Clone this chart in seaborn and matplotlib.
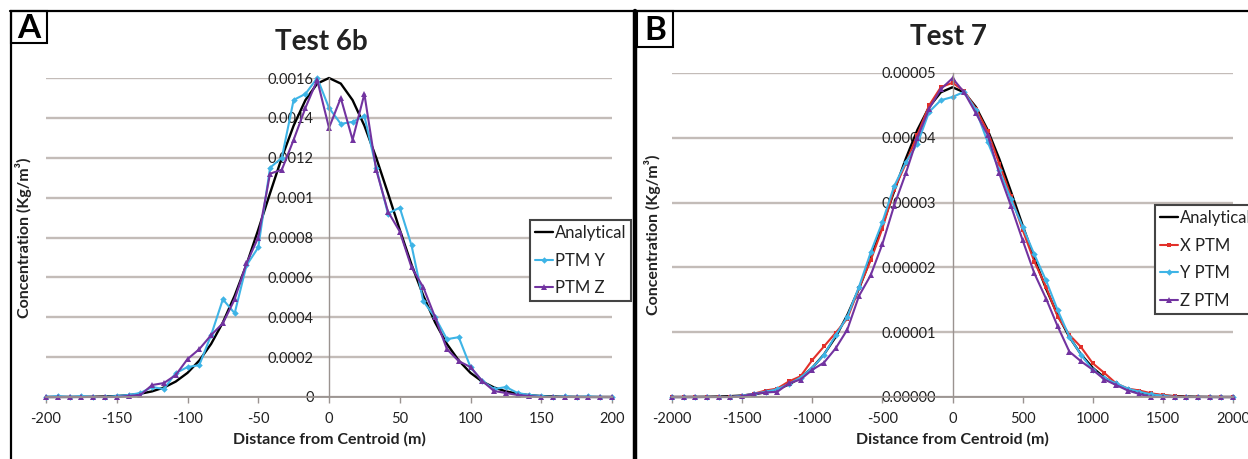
import matplotlib
matplotlib.use("Agg")
import matplotlib.pyplot as plt
import seaborn as sns
from matplotlib.lines import Line2D
from matplotlib.patches import Rectangle

# ---------------- data: panel A (Test 6b) ----------------
dist_a = [-200, -191.67, -183.33, -175, -166.67, -158.33, -150, -141.67, -133.33, -125,
          -116.67, -108.33, -100, -91.67, -83.33, -75, -66.67, -58.33, -50, -41.67,
          -33.33, -25, -16.67, -8.33, 0, 8.33, 16.67, 25, 33.33, 41.67,
          50, 58.33, 66.67, 75, 83.33, 91.67, 100, 108.33, 116.67, 125,
          133.33, 141.67, 150, 158.33, 166.67, 175, 183.33, 191.67, 200]
analytical_a = [0.0, 0.0000001, 0.0000003, 0.0000006, 0.0000012, 0.0000025, 0.0000048, 0.000009, 0.0000162, 0.0000283,
                0.0000476, 0.0000773, 0.000121, 0.000183, 0.000266, 0.000374, 0.000508, 0.000664, 0.000839, 0.001022,
                0.001201, 0.001361, 0.001489, 0.001572, 0.0016, 0.001572, 0.001489, 0.001361, 0.001201, 0.001022,
                0.000839, 0.000664, 0.000508, 0.000374, 0.000266, 0.000183, 0.000121, 0.0000773, 0.0000476, 0.0000283,
                0.0000162, 0.000009, 0.0000048, 0.0000025, 0.0000012, 0.0000006, 0.0000003, 0.0000001, 0.0]
ptm_y_a = [0.0, 0.000005, 0.0, 0.000005, 0.0, 0.0, 0.000005, 0.00001, 0.00002, 0.00005,
           0.00004, 0.00012, 0.00015, 0.00016, 0.00031, 0.00049, 0.00042, 0.00066, 0.00075, 0.00115,
           0.00120, 0.00149, 0.00152, 0.00160, 0.00145, 0.00137, 0.00138, 0.00141, 0.00115, 0.00092,
           0.00095, 0.00076, 0.00048, 0.00040, 0.00029, 0.00030, 0.00015, 0.00008, 0.00004, 0.00005,
           0.00002, 0.00001, 0.000005, 0.0, 0.000003, 0.0, 0.000003, 0.0, 0.0]
ptm_z_a = [0.0, 0.0, 0.0, 0.0, 0.0, 0.0, 0.0, 0.000005, 0.00001, 0.00006,
           0.00007, 0.00011, 0.00019, 0.00024, 0.00031, 0.00037, 0.00049, 0.00067, 0.00080, 0.00112,
           0.00114, 0.00129, 0.00145, 0.00159, 0.00135, 0.00150, 0.00129, 0.00152, 0.00114, 0.00093,
           0.00083, 0.00065, 0.00055, 0.00040, 0.00024, 0.00018, 0.00015, 0.00008, 0.00003, 0.00002,
           0.00001, 0.000005, 0.0, 0.0, 0.0, 0.0, 0.0, 0.0, 0.0]
xticks_a = [-200, -150, -100, -50, 0, 50, 100, 150, 200]
xlabels_a = ["-200", "-150", "-100", "-50", "0", "50", "100", "150", "200"]
yticks_a = [0, 0.0002, 0.0004, 0.0006, 0.0008, 0.001, 0.0012, 0.0014, 0.0016]
ylabels_a = ["0", "0.0002", "0.0004", "0.0006", "0.0008", "0.001", "0.0012", "0.0014", "0.0016"]

# ---------------- data: panel B (Test 7) ----------------
dist_b = [-2000, -1916.7, -1833.3, -1750, -1666.7, -1583.3, -1500, -1416.7, -1333.3, -1250,
          -1166.7, -1083.3, -1000, -916.7, -833.3, -750, -666.7, -583.3, -500, -416.7,
          -333.3, -250, -166.7, -83.3, 0, 83.3, 166.7, 250, 333.3, 416.7,
          500, 583.3, 666.7, 750, 833.3, 916.7, 1000, 1083.3, 1166.7, 1250,
          1333.3, 1416.7, 1500, 1583.3, 1666.7, 1750, 1833.3, 1916.7, 2000]
analytical_b = [0.0, 0.0, 1e-8, 3e-8, 7e-8, 1.3e-7, 2.3e-7, 4.2e-7, 7.2e-7, 1.19e-6,
                1.92e-6, 2.99e-6, 4.50e-6, 6.56e-6, 9.26e-6, 1.265e-5, 1.673e-5, 2.139e-5, 2.648e-5, 3.171e-5,
                3.676e-5, 4.124e-5, 4.476e-5, 4.702e-5, 4.78e-5, 4.702e-5, 4.476e-5, 4.124e-5, 3.676e-5, 3.171e-5,
                2.648e-5, 2.139e-5, 1.673e-5, 1.265e-5, 9.26e-6, 6.56e-6, 4.50e-6, 2.99e-6, 1.92e-6, 1.19e-6,
                7.2e-7, 4.2e-7, 2.3e-7, 1.3e-7, 7e-8, 3e-8, 1e-8, 0.0, 0.0]
x_ptm_b = [0.0, 0.0, 0.0, 0.0, 0.0, 0.0, 2e-7, 5e-7, 1.0e-6, 1.3e-6,
           2.4e-6, 3.2e-6, 5.7e-6, 7.8e-6, 9.9e-6, 1.21e-5, 1.68e-5, 2.11e-5, 2.6e-5, 3.2e-5,
           3.6e-5, 4.05e-5, 4.5e-5, 4.78e-5, 4.85e-5, 4.72e-5, 4.45e-5, 4.1e-5, 3.6e-5, 3.1e-5,
           2.58e-5, 2.09e-5, 1.7e-5, 1.24e-5, 9.6e-6, 7.7e-6, 5.2e-6, 3.7e-6, 2.1e-6, 1.3e-6,
           1.0e-6, 5.7e-7, 3e-7, 1e-7, 0.0, 0.0, 0.0, 0.0, 0.0]
y_ptm_b = [0.0, 0.0, 0.0, 0.0, 0.0, 0.0, 2e-7, 5e-7, 8e-7, 1.2e-6,
           2.0e-6, 3.0e-6, 4.5e-6, 6.5e-6, 9.5e-6, 1.24e-5, 1.7e-5, 2.23e-5, 2.7e-5, 3.25e-5,
           3.62e-5, 3.91e-5, 4.4e-5, 4.58e-5, 4.63e-5, 4.71e-5, 4.43e-5, 3.94e-5, 3.5e-5, 3.05e-5,
           2.63e-5, 2.2e-5, 1.8e-5, 1.34e-5, 9.3e-6, 6.5e-6, 4.2e-6, 2.9e-6, 2.1e-6, 1.3e-6,
           8e-7, 4e-7, 2e-7, 0.0, 0.0, 0.0, 0.0, 0.0, 0.0]
z_ptm_b = [0.0, 0.0, 0.0, 0.0, 0.0, 0.0, 1e-7, 5e-7, 7e-7, 8e-7,
           2.1e-6, 2.7e-6, 4.2e-6, 5.3e-6, 7.5e-6, 1.04e-5, 1.56e-5, 1.88e-5, 2.36e-5, 2.95e-5,
           3.45e-5, 4.0e-5, 4.45e-5, 4.75e-5, 4.92e-5, 4.7e-5, 4.38e-5, 4.05e-5, 3.45e-5, 2.95e-5,
           2.42e-5, 1.91e-5, 1.52e-5, 1.09e-5, 7.0e-6, 5.5e-6, 4.2e-6, 2.7e-6, 1.85e-6, 1.0e-6,
           4.6e-7, 0.0, 0.0, 0.0, 0.0, 0.0, 0.0, 0.0, 0.0]
xticks_b = [-2000, -1500, -1000, -500, 0, 500, 1000, 1500, 2000]
xlabels_b = ["-2000", "-1500", "-1000", "-500", "0", "500", "1000", "1500", "2000"]
yticks_b = [0, 0.00001, 0.00002, 0.00003, 0.00004, 0.00005]
ylabels_b = ["0.00000", "0.00001", "0.00002", "0.00003", "0.00004", "0.00005"]

# ---------------- style ----------------
sns.set_theme(style="white")
plt.rcParams['font.family'] = ['Lato', 'DejaVu Sans']
plt.rcParams['axes.unicode_minus'] = False

BLACK = "#000000"
BLUE = "#3eb4e6"
PURPLE = "#7233a0"
RED = "#e2302a"
GRID = "#c3bcb8"
AXIS = "#9a9390"
TXT = "#222222"

W, H = 1248, 459
fig = plt.figure(figsize=(W / 100, H / 100), dpi=100)
fig.patch.set_facecolor("white")

axA = fig.add_axes([46 / W, (H - 397) / H, 566 / W, 319 / H])
axB = fig.add_axes([672 / W, (H - 397) / H, 561 / W, 324 / H])


def series(ax, x, y, color, label, marker=None, ms=3.5, lw=1.5):
    kw = dict(x=x, y=y, color=color, label=label, ax=ax, estimator=None,
              sort=False, linewidth=lw, clip_on=False)
    if marker:
        kw.update(marker=marker, markersize=ms, markeredgewidth=0,
                  markerfacecolor=color)
    sns.lineplot(**kw)


series(axA, dist_a, analytical_a, BLACK, "Analytical", lw=1.7)
series(axA, dist_a, ptm_y_a, BLUE, "PTM Y", marker="D", ms=3.3)
series(axA, dist_a, ptm_z_a, PURPLE, "PTM Z", marker="^", ms=4.2)

series(axB, dist_b, analytical_b, BLACK, "Analytical", lw=1.7)
series(axB, dist_b, x_ptm_b, RED, "X PTM", marker="s", ms=3.5)
series(axB, dist_b, y_ptm_b, BLUE, "Y PTM", marker="D", ms=3.3)
series(axB, dist_b, z_ptm_b, PURPLE, "Z PTM", marker="^", ms=4.2)


def style_axes(ax, xlim, ylim, xt, xl, yt, yl, title, title_x, ylab_x, ypad, leg_anchor):
    ax.set_xlim(*xlim)
    ax.set_ylim(*ylim)
    ax.set_xticks(xt)
    ax.set_xticklabels(xl)
    ax.set_yticks(yt)
    ax.set_yticklabels(yl)
    ax.set_facecolor("white")
    ax.grid(axis="y", color=GRID, linewidth=1.7)
    ax.grid(axis="x", visible=False)
    ax.set_axisbelow(True)
    for s in ("top", "right"):
        ax.spines[s].set_visible(False)
    ax.spines["left"].set_position(("data", 0))
    ax.spines["left"].set_color(AXIS)
    ax.spines["left"].set_linewidth(1.0)
    ax.spines["bottom"].set_color(AXIS)
    ax.spines["bottom"].set_linewidth(1.3)
    ax.tick_params(axis="x", bottom=True, length=4, width=1, color=AXIS,
                   direction="out", pad=7, labelsize=10.5, labelcolor=TXT)
    ax.tick_params(axis="y", left=False, length=0, pad=ypad, labelsize=10.5,
                   labelcolor=TXT)
    ax.set_xlabel("Distance from Centroid (m)", fontsize=11.5, fontweight="bold",
                  color=TXT, labelpad=4)
    ax.set_ylabel("Concentration (Kg/m³)", fontsize=11.5, fontweight="bold",
                  color=TXT)
    ax.yaxis.set_label_coords(ylab_x, 0.5)
    ax.set_title(title, fontsize=20, fontweight="bold", color=TXT, x=title_x,
                 pad=20)
    leg = ax.legend(loc="upper left", bbox_to_anchor=leg_anchor, frameon=True,
                    fancybox=False, framealpha=1, edgecolor="#444444",
                    fontsize=12, handlelength=1.1, handletextpad=0.1,
                    borderpad=0.3, labelspacing=0.7, borderaxespad=0,
                    numpoints=1)
    leg.get_frame().set_linewidth(1.5)
    for t in leg.get_texts():
        t.set_color(TXT)


style_axes(axA, (-200, 200), (0, 0.0016), xticks_a, xlabels_a, yticks_a, ylabels_a,
           "Test 6b", 0.486, -0.024, 11, (0.855, 0.555))
style_axes(axB, (-2000, 2000), (0, 0.00005), xticks_b, xlabels_b, yticks_b, ylabels_b,
           "Test 7", 0.492, -0.019, 12, (0.861, 0.593))

# ---------------- panel frames and letters ----------------
def fx(x):
    return x / W


def fy(y):
    return 1 - y / H


fig.add_artist(Line2D([fx(10), 1], [fy(11), fy(11)], color="black", lw=1.6,
                      transform=fig.transFigure))
fig.add_artist(Line2D([fx(11), fx(11)], [0, fy(11)], color="black", lw=1.6,
                      transform=fig.transFigure))
fig.add_artist(Line2D([fx(635), fx(635)], [0, fy(11)], color="black", lw=3.2,
                      transform=fig.transFigure))
fig.add_artist(Rectangle((fx(11), fy(43)), 36 / W, 32 / H, fill=False,
                         edgecolor="black", lw=1.5, transform=fig.transFigure))
fig.add_artist(Rectangle((fx(637), fy(47)), 36 / W, 36 / H, fill=False,
                         edgecolor="black", lw=1.5, transform=fig.transFigure))
fig.text(fx(29), fy(28), "A", fontsize=24, fontweight="bold", ha="center",
         va="center", color="black")
fig.text(fx(655), fy(30), "B", fontsize=24, fontweight="bold", ha="center",
         va="center", color="black")

fig.savefig("out.png", dpi=100, facecolor="white")
